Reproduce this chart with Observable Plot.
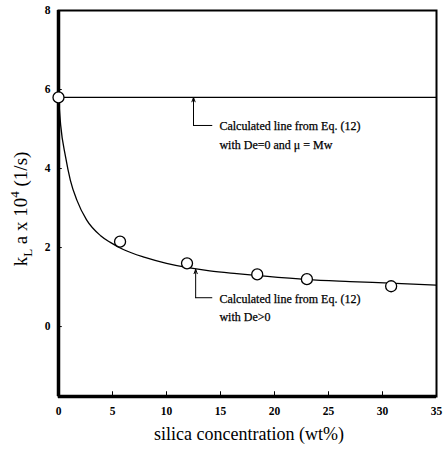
<!DOCTYPE html>
<html><head><meta charset="utf-8">
<script src="https://cdn.jsdelivr.net/npm/d3@7"></script>
<script src="https://cdn.jsdelivr.net/npm/@observablehq/plot@0.6"></script>
<style>body{margin:0;background:#fff}</style>
</head><body><div id="chart"></div>
<script>
// measured points
const silica = [0, 5.7, 11.9, 18.4, 23.0, 30.8];
const kla = [5.8, 2.15, 1.6, 1.32, 1.2, 1.02];
// calculated curve, De>0
const curveX = [0, 0.2, 0.65, 1.1, 1.7, 2.6, 3.9, 4.8, 6, 8, 10, 12, 14, 16.5, 18.5, 23, 27, 30.7, 35];
const curveY = [5.8, 5.1, 4.3, 3.7, 3.2, 2.7, 2.3, 2.13, 1.95, 1.75, 1.6, 1.49, 1.41, 1.34, 1.29, 1.19, 1.14, 1.1, 1.05];
// calculated line, De=0 and mu = Mw
const flatX = [0, 35];
const flatY = [5.8, 5.8];
const xTicks = [0, 5, 10, 15, 20, 25, 30, 35];
const yTicks = [0, 2, 4, 6, 8];
const xDomain = [0, 35];
const yDomain = [-1.77, 8];
// annotations
const ann1Lines = ["Calculated line from Eq. (12)", "with De=0 and \u03bc = Mw"];
const ann1Elbow = [[14.2, 5.09], [12.5, 5.09]];
const ann1Arrow = {x: 12.5, y1: 5.09, y2: 5.8};
const ann1TextX = 14.9, ann1TextY = [5.06, 4.6];
const ann2Lines = ["Calculated line from Eq. (12)", "with De>0"];
const ann2Elbow = [[14.2, 0.73], [12.7, 0.73]];
const ann2Arrow = {x: 12.7, y1: 0.73, y2: 1.45};
const ann2TextX = 14.9, ann2TextY = [0.7, 0.24];

const pts = silica.map((x, i) => ({x, y: kla[i]}));
const curve = curveX.map((x, i) => ({x, y: curveY[i]}));
const flat = flatX.map((x, i) => ({x, y: flatY[i]}));
const font = "'Liberation Serif', 'Times New Roman', serif";

const plot = Plot.plot({
  width: 443, height: 456,
  marginLeft: 58, marginRight: 7, marginTop: 10, marginBottom: 60,
  x: {type: "linear", domain: xDomain},
  y: {type: "linear", domain: yDomain},
  style: {fontFamily: font, background: "white", color: "black"},
  marks: [
    Plot.axisX({ticks: xTicks, tickSize: 0, tickPadding: 10, fontSize: 11.5, fontWeight: "bold", label: null}),
    Plot.axisY({ticks: yTicks, tickSize: 0, tickPadding: 8, fontSize: 11.5, fontWeight: "bold", label: null}),
    Plot.ruleX(xTicks, {x: d => d, y1: yDomain[0], y2: yDomain[0] + 0.12, stroke: "black", strokeWidth: 1}),
    Plot.ruleY(yTicks, {y: d => d, x1: xDomain[0], x2: xDomain[0] + 0.35, stroke: "black", strokeWidth: 1}),
    Plot.frame({stroke: "black", strokeWidth: 2}),
    Plot.ruleX([xDomain[0]], {stroke: "black", strokeWidth: 3.5}),
    Plot.ruleY([yDomain[0]], {stroke: "black", strokeWidth: 3.5}),
    Plot.line(flat, {x: "x", y: "y", stroke: "black", strokeWidth: 1.2}),
    Plot.line(curve, {x: "x", y: "y", curve: "monotone-x", stroke: "black", strokeWidth: 1.3}),
    Plot.line(ann1Elbow, {x: d => d[0], y: d => d[1], stroke: "black", strokeWidth: 1}),
    Plot.arrow([ann1Arrow], {x: "x", y1: "y1", y2: "y2", stroke: "black", strokeWidth: 1, headLength: 7, headAngle: 40}),
    Plot.line(ann2Elbow, {x: d => d[0], y: d => d[1], stroke: "black", strokeWidth: 1}),
    Plot.arrow([ann2Arrow], {x: "x", y1: "y1", y2: "y2", stroke: "black", strokeWidth: 1, headLength: 7, headAngle: 40}),
    Plot.text(ann1Lines, {x: ann1TextX, y: (d, i) => ann1TextY[i], text: d => d, textAnchor: "start", fontSize: 12, fill: "black", stroke: "black", strokeWidth: 0.25}),
    Plot.text(ann2Lines, {x: ann2TextX, y: (d, i) => ann2TextY[i], text: d => d, textAnchor: "start", fontSize: 12, fill: "black", stroke: "black", strokeWidth: 0.25}),
    Plot.dot(pts, {x: "x", y: "y", r: 5.5, fill: "white", stroke: "black", strokeWidth: 1.3})
  ]
});
document.getElementById("chart").appendChild(plot);

const svg = d3.select(plot);
// x label
svg.append("text").attr("x", 249).attr("y", 440).attr("text-anchor", "middle")
  .attr("font-family", font).attr("font-size", 18).attr("fill", "black")
  .text("silica concentration (wt%)");
// y label with subscript/superscript
const yl = svg.append("text").attr("transform", "translate(27,209) rotate(-90)")
  .attr("text-anchor", "middle").attr("font-family", font).attr("font-size", 19).attr("fill", "black");
yl.append("tspan").text("k");
yl.append("tspan").attr("font-size", 13).attr("dy", 5).text("L");
yl.append("tspan").attr("dy", -5).text(" a x 10");
yl.append("tspan").attr("font-size", 13).attr("dy", -8).text("4");
yl.append("tspan").attr("dy", 8).text(" (1/s)");
</script>
</body></html>
